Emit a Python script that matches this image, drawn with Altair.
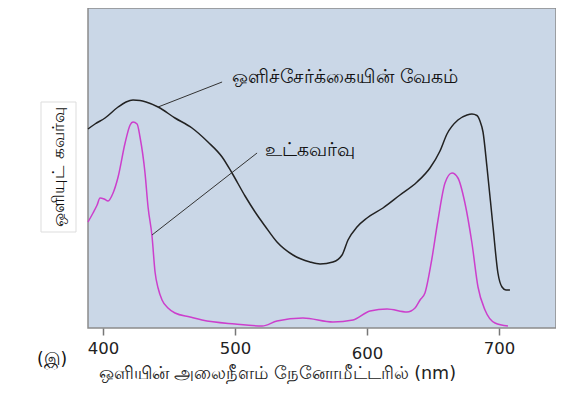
import altair as alt
import pandas as pd

# Photosynthesis rate curve (wavelength nm, relative value)
rate_nm = [388.6, 393.9, 401.5, 411.4, 417.4, 422.7, 428.0, 432.6, 441.7, 454.5, 467.4,
           479.5, 490.2, 497.7, 507.6, 515.2, 522.7, 531.8, 543.9, 556.8, 564.4, 574.2,
           581.1, 585.6, 592.4, 600.0, 612.1, 625.0, 637.9, 647.7, 655.3, 660.6, 668.9,
           675.8, 679.5, 683.3, 685.6, 687.9, 690.9, 695.5, 699.2, 702.3, 705.3, 708.3]
rate_val = [199, 204, 210, 221, 226, 228, 227.5, 226, 221, 210, 200,
            186, 171, 155, 132, 116, 102, 86, 73, 66, 64, 66,
            73, 88, 101, 110, 120, 133, 146, 160, 177, 194, 208,
            213, 214, 212.5, 207, 196, 161, 101, 55, 41, 38, 38]

# Absorption curve
abs_nm = [388.6, 392.4, 395.5, 397.7, 400.8, 403.8, 407.6, 411.4, 416.7, 420.5, 422.7,
          425.8, 428.0, 431.8, 434.1, 437.1, 439.4, 441.7, 444.7, 449.2, 454.5, 465.9,
          475.0, 500.0, 520.5, 531.8, 551.5, 574.2, 589.4, 602.3, 615.2, 630.3, 636.4,
          640.2, 643.9, 649.0, 653.8, 659.1, 664.4, 668.9, 674.2, 679.5, 684.1, 689.4,
          697.0, 706.8]
abs_val = [106, 115, 123, 130, 129, 127, 135, 151, 185, 203, 206,
           204, 191, 155, 121, 92, 56, 40, 28, 20, 15, 11,
           8, 4, 2, 7, 10, 6, 8, 17, 19, 16, 20,
           28, 35, 68, 108, 145, 155, 150, 125, 85, 41, 18,
           5, 2]

# Callout lines and labels
callout_x1 = [441.7, 437.1]
callout_y1 = [221, 93]
callout_x2 = [490.2, 516.7]
callout_y2 = [246, 175]
label_x = [497.7, 522.7]
label_y = [251, 178]
label_text = ["ஒளிச்சேர்க்கையின் வேகம்", "உட்கவர்வு"]

x_ticks = [400, 500, 600, 700]
x_title = "ஒளியின் அலைநீளம் நேனோமீட்டரில் (nm)"
y_title = "ஒளியுட் கவர்வு"
panel_label = "(இ)"

FONT = "DejaVu Sans, Noto Sans, sans-serif"

rate_df = pd.DataFrame({"nm": rate_nm, "v": rate_val})
abs_df = pd.DataFrame({"nm": abs_nm, "v": abs_val})
call_df = pd.DataFrame({"x1": callout_x1, "y1": callout_y1, "x2": callout_x2, "y2": callout_y2})
lab_df = pd.DataFrame({"x": label_x, "y": label_y, "t": label_text})

xscale = alt.Scale(domain=[388.6, 743.2], nice=False, zero=False)
yscale = alt.Scale(domain=[0, 320], nice=False, zero=False)

xaxis = alt.Axis(values=x_ticks, title=x_title, domain=False, grid=False,
                 tickColor="#777777", tickSize=7, tickWidth=1.5,
                 labelFont=FONT, labelFontSize=16.5, labelColor="#222222",
                 labelPadding={"condition": {"test": "datum.value == 600", "value": 10}, "value": 5},
                 titleFont=FONT, titleFontSize=17.5, titleFontWeight="normal", titleColor="#222222",
                 titleAnchor="start", titleAlign="left", titleX=10, titleY=45,
                 titleBaseline="middle")

rate_line = alt.Chart(rate_df).mark_line(color="#222222", strokeWidth=1.5, interpolate="monotone").encode(
    x=alt.X("nm:Q", scale=xscale, axis=xaxis),
    y=alt.Y("v:Q", scale=yscale, axis=None),
)
abs_line = alt.Chart(abs_df).mark_line(color="#cc3fcc", strokeWidth=1.5, interpolate="monotone").encode(
    x=alt.X("nm:Q", scale=xscale),
    y=alt.Y("v:Q", scale=yscale),
)
callouts = alt.Chart(call_df).mark_rule(color="#333333", strokeWidth=1).encode(
    x=alt.X("x1:Q", scale=xscale), y=alt.Y("y1:Q", scale=yscale),
    x2="x2:Q", y2="y2:Q",
)
labels = alt.Chart(lab_df).mark_text(align="left", baseline="middle", font=FONT,
                                     fontSize=18.5, color="#111111").encode(
    x=alt.X("x:Q", scale=xscale), y=alt.Y("y:Q", scale=yscale), text="t:N",
)
ybox = alt.Chart(pd.DataFrame({"a": [0]})).mark_rect(fill="white", stroke="#dddddd", strokeWidth=1).encode(
    x=alt.value(-47), x2=alt.value(-12), y=alt.value(94), y2=alt.value(224),
)
ytext = alt.Chart(pd.DataFrame({"t": [y_title]})).mark_text(
    angle=270, align="center", baseline="middle", font=FONT, fontSize=16.5, color="#111111"
).encode(x=alt.value(-29.5), y=alt.value(159), text="t:N")
ptext = alt.Chart(pd.DataFrame({"t": [panel_label]})).mark_text(
    align="center", baseline="middle", font=FONT, fontSize=17, color="#111111"
).encode(x=alt.value(-36), y=alt.value(352), text="t:N")

chart = alt.layer(ybox, ytext, ptext, rate_line, abs_line, callouts, labels).properties(
    width=468, height=320,
    autosize=alt.AutoSizeParams(type="none"),
    padding={"left": 80, "top": 0, "right": 0, "bottom": 56},
).configure_view(
    fill="#cad7e7", stroke="#8c8c8c", strokeWidth=1.5
)

chart.save("out.html", embed_options={"renderer": "svg", "actions": False})
